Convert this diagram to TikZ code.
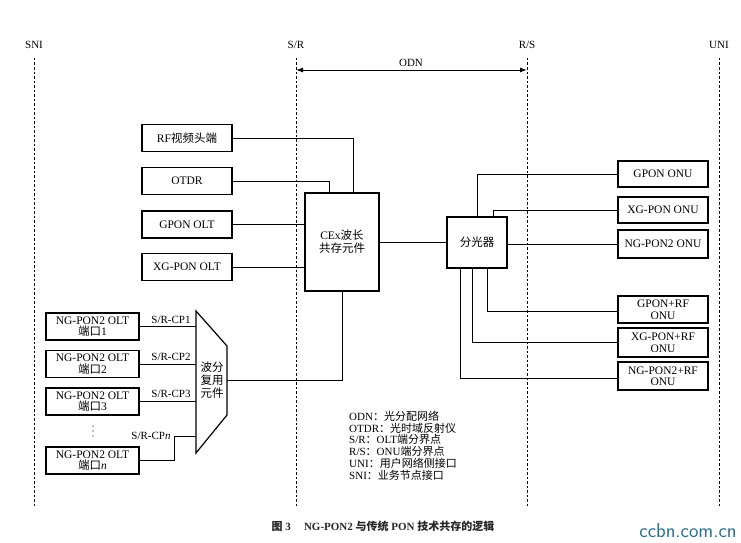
\documentclass[tikz,border=0pt]{standalone}
\usepackage{fontspec}
\setmainfont{Liberation Serif}
\newfontfamily\cjk{Noto Sans CJK SC}
\newcommand\zh[1]{{\cjk #1}}
\usetikzlibrary{arrows.meta}
\definecolor{wm}{RGB}{40,110,140}
\begin{document}
\begin{tikzpicture}[x=1pt,y=-1pt,
  box/.style={draw, line width=1.2pt, minimum width=90pt, minimum height=27pt, inner sep=1pt,
    font=\fontsize{11.5}{11.5}\selectfont, align=center},
  conn/.style={line width=0.9pt},
  refline/.style={line width=1pt, dash pattern=on 2.5pt off 2pt},
  lbl/.style={font=\fontsize{11}{12}\selectfont, inner sep=1pt}]
\useasboundingbox (0,0) rectangle (741,543);

% reference points
\node[lbl] (sni) at (34,45) {SNI};
\node[lbl] (sr) at (296,45) {S/R};
\node[lbl] (rs) at (527,45) {R/S};
\node[lbl] (uni) at (719,45) {UNI};
\foreach \n/\x in {sni/34, sr/296, rs/527, uni/719}{
  \coordinate (\n top) at (\x,58);
  \coordinate (\n bot) at (\x,507);
  \draw[refline] (\n top) -- (\n bot);
}
\coordinate (odnL) at (296,70);
\coordinate (odnR) at (527,70);
\draw[line width=1pt, {Latex[length=7pt,width=5pt]}-{Latex[length=7pt,width=5pt]}] (odnL) -- (odnR);
\node[lbl] (odn) at (411,63) {ODN};

% left boxes
\node[box] (rf) at (187,138) {RF\zh{视频头端}};
\node[box] (otdr) at (187,181) {OTDR};
\node[box] (golt) at (187,224.5) {GPON OLT};
\node[box] (xolt) at (187,267) {XG-PON OLT};
\node[box, minimum width=74pt, minimum height=98pt, font=\fontsize{11.5}{13}\selectfont] (cex) at (342,242) {CEx\zh{波长}\\\zh{共存元件}};
\node[box, minimum width=60pt, minimum height=51pt] (spl) at (477,242.5) {\zh{分光器}};

% ONUs
\node[box, minimum height=26pt] (gonu) at (663,174) {GPON ONU};
\node[box, minimum height=26pt] (xonu) at (663,210) {XG-PON ONU};
\node[box, minimum height=28pt] (nonu) at (663,244) {NG-PON2 ONU};
\node[box] (grf) at (663,309.5) {GPON+RF\\ONU};
\node[box, minimum height=29pt] (xrf) at (663,342.5) {XG-PON+RF\\ONU};
\node[box, minimum height=28pt] (nrf) at (663,376) {NG-PON2+RF\\ONU};

% OLT ports
\node[box, minimum width=93pt] (p1) at (92.5,326.5) {NG-PON2 OLT\\\zh{端口}1};
\node[box, minimum width=93pt] (p2) at (92.5,364) {NG-PON2 OLT\\\zh{端口}2};
\node[box, minimum width=93pt] (p3) at (92.5,401.5) {NG-PON2 OLT\\\zh{端口}3};
\node[box, minimum width=93pt] (pn) at (92.5,460.5) {NG-PON2 OLT\\\zh{端口}\textit{n}};
% vertical ellipsis
\foreach \yy in {426,431,436}{\fill (93,\yy) circle (0.7pt);}

% mux
\draw[line width=1.2pt] (196,311) -- (227,346) -- (227,415) -- (196,453) -- cycle;
\node[lbl, align=center, font=\fontsize{11.5}{13}\selectfont] (mux) at (212,380) {\zh{波分}\\\zh{复用}\\\zh{元件}};
\coordinate (muxL) at (196,380);
\coordinate (muxR) at (227,380);
\coordinate (cpn) at (174,436);

% connectors left
\draw[conn] (rf.east) -| ([xshift=11pt]cex.north);
\draw[conn] (otdr.east) -| ([xshift=-13pt]cex.north);
\draw[conn] (golt.east) -- (golt.east -| cex.west);
\draw[conn] (xolt.east) -- (xolt.east -| cex.west);
\draw[conn] (spl.west -| cex.east) -- (spl.west);
\draw[conn] (muxR) -| (cex.south);

\draw[conn] (p1.east) -- (p1.east -| muxL);
\draw[conn] (p2.east) -- (p2.east -| muxL);
\draw[conn] (p3.east) -- (p3.east -| muxL);
\draw[conn] (pn.east) -| (cpn) -- (cpn -| muxL);
\node[lbl] (cp1) at (171,320) {S/R-CP1};
\node[lbl] (cp2) at (171,357) {S/R-CP2};
\node[lbl] (cp3) at (171,394) {S/R-CP3};
\node[lbl] (cpnl) at (151,436) {S/R-CP\textit{n}};

% connectors right
\draw[conn] (spl.north) |- (gonu.west);
\draw[conn] ([xshift=16pt]spl.north) |- (xonu.west);
\draw[conn] (nonu.west -| spl.east) -- (nonu.west);
\draw[conn] ([xshift=10pt]spl.south) |- ([yshift=-1.5pt]grf.west);
\draw[conn] ([xshift=-5pt]spl.south) |- (xrf.west);
\draw[conn] ([xshift=-17pt]spl.south) |- ([yshift=-2pt]nrf.west);

% legend
\node[anchor=north west, align=left, inner sep=0pt, font=\fontsize{11}{11.7}\selectfont] (legend) at (349,411)
 {ODN\zh{：光分配网络}\\
  OTDR\zh{：光时域反射仪}\\
  S/R\zh{：}OLT\zh{端分界点}\\
  R/S\zh{：}ONU\zh{端分界点}\\
  UNI\zh{：用户网络侧接口}\\
  SNI\zh{：业务节点接口}};

% caption
\node[font=\fontsize{11}{12}\selectfont\bfseries, text=black!85] (cap) at (383,526)
 {\zh{\bfseries 图} 3\hspace{1.2em}NG-PON2 \zh{\bfseries 与传统} PON \zh{\bfseries 技术共存的逻辑}};
\node[font=\fontsize{20}{21}\selectfont\sffamily, text=wm] (wmark) at (688,531) {ccbn.com.cn};
\end{tikzpicture}
\end{document}
